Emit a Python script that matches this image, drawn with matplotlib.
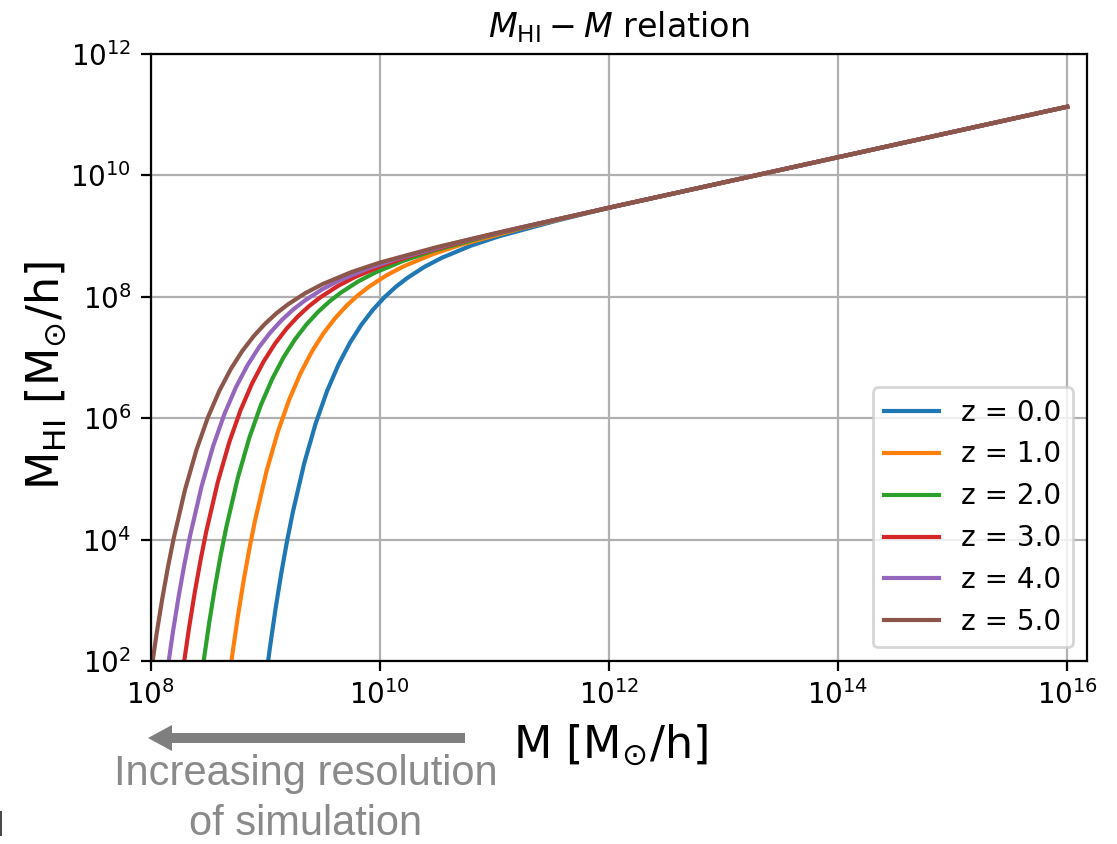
import numpy as np
import matplotlib
matplotlib.use("Agg")
import matplotlib.pyplot as plt
from matplotlib.lines import Line2D
from matplotlib.patches import FancyArrow
from matplotlib.transforms import IdentityTransform

# ---------- data (log10 values) ----------
redshifts = [0.0, 1.0, 2.0, 3.0, 4.0, 5.0]

# shared high-mass tail, all redshifts lie on top of each other here
tail_logm = [12.0, 13.0, 14.0, 15.0, 16.0]
tail_loghi = [9.468, 9.884, 10.30, 10.716, 11.132]

logm_z0 = [8.99, 9.04, 9.09, 9.14, 9.19, 9.24, 9.34, 9.44, 9.54, 9.64, 9.74,
           9.84, 9.94, 10.04, 10.14, 10.24, 10.39, 10.54, 10.79, 11.04, 11.54]
loghi_z0 = [1.486, 2.211, 2.863, 3.448, 3.974, 4.447, 5.257, 5.914, 6.450, 6.887, 7.246,
            7.542, 7.787, 7.992, 8.165, 8.311, 8.494, 8.642, 8.839, 8.997, 9.253]

logm_z1 = [8.66, 8.71, 8.76, 8.81, 8.86, 8.91, 9.01, 9.11, 9.21, 9.31, 9.41,
           9.51, 9.61, 9.71, 9.81, 9.91, 10.06, 10.21, 10.46, 10.71, 11.21, 11.71]
loghi_z1 = [1.348, 2.073, 2.725, 3.310, 3.836, 4.309, 5.119, 5.776, 6.312, 6.749, 7.108,
            7.404, 7.649, 7.854, 8.027, 8.173, 8.356, 8.504, 8.701, 8.859, 9.115, 9.339]

logm_z2 = [8.41, 8.46, 8.51, 8.56, 8.61, 8.66, 8.76, 8.86, 8.96, 9.06, 9.16, 9.26,
           9.36, 9.46, 9.56, 9.66, 9.81, 9.96, 10.21, 10.46, 10.96, 11.46, 11.96]
loghi_z2 = [1.244, 1.969, 2.621, 3.206, 3.732, 4.205, 5.015, 5.672, 6.208, 6.645, 7.004, 7.300,
            7.545, 7.750, 7.923, 8.069, 8.252, 8.400, 8.597, 8.755, 9.011, 9.235, 9.448]

logm_z3 = [8.235, 8.285, 8.335, 8.385, 8.435, 8.485, 8.585, 8.685, 8.785, 8.885, 8.985, 9.085,
           9.185, 9.285, 9.385, 9.485, 9.635, 9.785, 10.035, 10.285, 10.785, 11.285, 11.785]
loghi_z3 = [1.172, 1.897, 2.549, 3.134, 3.660, 4.133, 4.943, 5.600, 6.136, 6.573, 6.932, 7.228,
            7.473, 7.678, 7.851, 7.997, 8.180, 8.328, 8.525, 8.683, 8.939, 9.163, 9.376]

logm_z4 = [8.095, 8.145, 8.195, 8.245, 8.295, 8.345, 8.445, 8.545, 8.645, 8.745, 8.845, 8.945,
           9.045, 9.145, 9.245, 9.345, 9.495, 9.645, 9.895, 10.145, 10.645, 11.145, 11.645]
loghi_z4 = [1.113, 1.838, 2.490, 3.075, 3.601, 4.074, 4.884, 5.541, 6.077, 6.514, 6.873, 7.169,
            7.414, 7.619, 7.792, 7.938, 8.121, 8.269, 8.466, 8.624, 8.880, 9.104, 9.317]

logm_z5 = [7.95, 8.00, 8.05, 8.10, 8.15, 8.20, 8.30, 8.40, 8.50, 8.60, 8.70, 8.80,
           8.90, 9.00, 9.10, 9.20, 9.35, 9.50, 9.75, 10.00, 10.50, 11.00, 11.50]
loghi_z5 = [1.053, 1.778, 2.430, 3.015, 3.541, 4.014, 4.824, 5.481, 6.017, 6.454, 6.813, 7.109,
            7.354, 7.559, 7.732, 7.878, 8.061, 8.209, 8.406, 8.564, 8.820, 9.044, 9.257]

curves = [
    (logm_z0, loghi_z0),
    (logm_z1, loghi_z1),
    (logm_z2, loghi_z2),
    (logm_z3, loghi_z3),
    (logm_z4, loghi_z4),
    (logm_z5, loghi_z5),
]

x_ticks = [1e8, 1e10, 1e12, 1e14, 1e16]
y_ticks = [1e2, 1e4, 1e6, 1e8, 1e10, 1e12]

# ---------- figure ----------
W, H, DPI = 1117, 844, 200
fig = plt.figure(figsize=(W / DPI, H / DPI), dpi=DPI)
ax = fig.add_axes([0.1349, 0.2168, 0.838, 0.7192])

for z, (lm, lh) in zip(redshifts, curves):
    m = 10 ** np.array(lm + tail_logm)
    mhi = 10 ** np.array(lh + tail_loghi)
    ax.plot(m, mhi, lw=1.5, label=f"z = {z:.1f}")

ax.set_xscale("log")
ax.set_yscale("log")
ax.set_xlim(1e8, 10 ** 16.17)
ax.set_ylim(1e2, 1e12)
ax.set_xticks(x_ticks)
ax.set_yticks(y_ticks)
ax.xaxis.set_minor_locator(matplotlib.ticker.NullLocator())
ax.yaxis.set_minor_locator(matplotlib.ticker.NullLocator())
ax.grid(True)

ax.set_title(r"$M_{\rm HI}-M$ relation")
ax.set_xlabel(r"M [M$_{\odot}$/h]", fontsize=16)
ax.set_ylabel(r"M$_{\rm HI}$ [M$_{\odot}$/h]", fontsize=16)
ax.xaxis.set_label_coords(0.4907, -0.10)
ax.yaxis.set_label_coords(-0.088, 0.471)
ax.legend(loc="lower right")

# annotation below the axis (pixel coordinates, origin bottom-left)
fig.add_artist(FancyArrow(465, H - 738, -317, 0, width=10, head_width=26,
                          head_length=24, length_includes_head=True,
                          color="#7f7f7f", lw=0, transform=IdentityTransform()))
fig.text(306 / W, 1 - 799 / H, "Increasing resolution\nof simulation",
         ha="center", va="center", fontsize=15, color="#8a8a8a",
         family="Liberation Sans", linespacing=1.3)
# sliver of a neighbouring panel's text at the left edge
fig.add_artist(Line2D([1, 1], [H - 835, H - 812], lw=0.7, color="#444444",
                      transform=IdentityTransform()))

fig.savefig("out.png", dpi=DPI)
